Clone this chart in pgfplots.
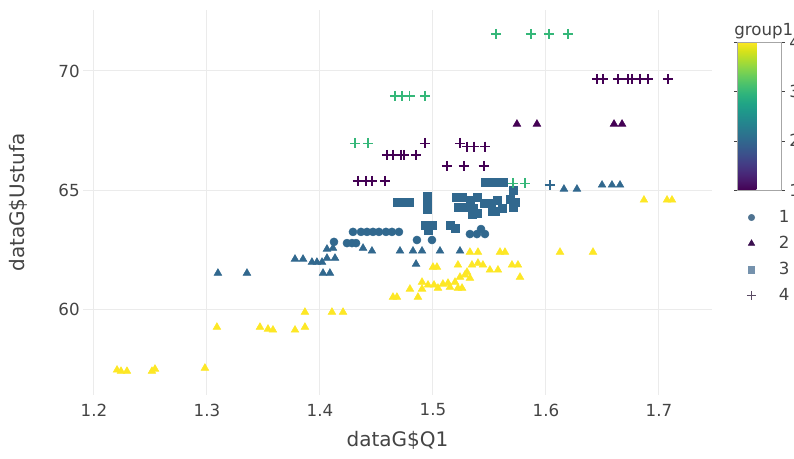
\documentclass[border=0pt]{standalone}
\usepackage{pgfplots}
\pgfplotsset{compat=1.18}
\usepackage{fontspec}
\setmainfont{DejaVu Sans}
\definecolor{vA}{HTML}{440154}
\definecolor{vB}{HTML}{31688E}
\definecolor{vC}{HTML}{35B779}
\definecolor{vD}{HTML}{FDE725}
\definecolor{txt}{HTML}{444444}
\definecolor{grd}{HTML}{EBEBEB}
\definecolor{lgA}{HTML}{4F7391}
\definecolor{lgB}{HTML}{3B1050}
\definecolor{lgC}{HTML}{7592AD}
\definecolor{lgD}{HTML}{5A4A63}
\begin{document}
\begin{tikzpicture}
\path[use as bounding box] (0,0) rectangle (595.5pt,343.5pt);
\begin{axis}[
  at={(62.25pt,47.25pt)}, anchor=south west,
  scale only axis, width=471.75pt, height=288.75pt,
  xmin=1.1903, xmax=1.7469, ymin=56.39, ymax=72.56,
  xtick={1.2,1.3,1.4,1.5,1.6,1.7},
  xticklabels={1.2,1.3,1.4,1.5,1.6,1.7},
  ytick={60,65,70}, yticklabels={60,65,70},
  grid=major, major grid style={draw=grd, line width=0.75pt},
  axis line style={draw=none}, tick style={draw=none},
  ticklabel style={font=\fontsize{12.5}{14}\selectfont, text=txt},
  xticklabel style={anchor=center, yshift=-11.25pt},
  yticklabel style={anchor=east, xshift=1pt},
  xlabel={dataG\$Q1}, ylabel={dataG\$Ustufa},
  label style={font=\fontsize{15}{17}\selectfont, text=txt},
  xlabel style={at={(axis description cs:0.5,0)}, anchor=center, yshift=-33.75pt},
  ylabel style={at={(axis description cs:0,0.5)}, anchor=center, rotate=0, yshift=48.75pt},
  colorbar, colormap/viridis, point meta min=1, point meta max=4,
  colorbar style={
    at={(parent axis.north east)}, anchor=north west,
    xshift=10.5pt, yshift=-24pt,
    scale only axis, width=33pt, height=111pt,
    ytick={1,2,3,4}, yticklabels={1,2,3,4},
    yticklabel style={font=\fontsize{12.5}{14}\selectfont, text=txt},
    axis line style={draw=black!35, line width=0.4pt},
    tick align=outside, major tick length=2.5pt, ytick style={draw=txt},
    title={group1},
    title style={at={(0,1)}, anchor=south west, inner sep=0pt, xshift=-2.5pt, yshift=-4pt,
      font=\fontsize{12.5}{14}\selectfont, text=txt},
  },
  legend style={at={(axis description cs:1.055,0.487)}, anchor=north west,
    draw=none, fill=none, font=\fontsize{12.5}{14}\selectfont, text=txt,
    row sep=4.8pt, column sep=15pt, inner sep=0pt},
  legend cell align=left,
]
% group 4 (yellow) triangles
\addplot[forget plot, only marks, mark=triangle*, mark size=3.3pt, mark options={draw=vD, fill=vD}] coordinates {
(1.2204,57.44)(1.2239,57.39)(1.2292,57.39)(1.2513,57.39)(1.2540,57.48)(1.2982,57.52)
(1.3088,59.24)(1.3469,59.24)(1.3540,59.16)(1.3584,59.12)(1.3779,59.12)(1.3867,59.24)
(1.3867,59.87)(1.4106,59.87)(1.4204,59.87)
(1.4646,60.50)(1.4681,60.50)(1.4796,60.84)(1.4867,60.50)(1.4903,61.13)(1.4903,60.84)
(1.5000,61.76)(1.5035,61.76)(1.5009,61.01)(1.5088,61.05)(1.5133,61.09)(1.5195,61.13)
(1.5239,61.34)(1.5221,60.88)(1.5257,60.88)(1.4956,61.01)(1.5044,60.88)(1.5150,60.92)
(1.5301,61.55)(1.5327,61.30)(1.5345,61.85)(1.5398,61.93)(1.5442,61.85)(1.5504,61.64)
(1.5575,61.64)(1.5699,61.85)(1.5752,61.85)(1.5770,61.34)(1.5221,61.85)(1.5283,61.43)
(1.5327,62.39)(1.5398,62.39)(1.5593,62.39)(1.5637,62.39)(1.6124,62.39)(1.6416,62.39)
(1.6867,64.58)(1.7071,64.58)(1.7115,64.58)
};
% group 2 (blue) triangles
\addplot[forget plot, only marks, mark=triangle*, mark size=3.3pt, mark options={draw=vB, fill=vB}] coordinates {
(1.6159,65.04)(1.6274,65.04)(1.6496,65.21)(1.6584,65.21)(1.6655,65.21)
(1.3097,61.51)(1.3354,61.51)(1.3779,62.10)(1.3850,62.10)
(1.3929,61.97)(1.3973,61.97)(1.4018,61.97)(1.4062,62.14)(1.4133,62.14)
(1.4062,62.52)(1.4115,62.56)(1.4027,61.51)(1.4088,61.51)
(1.4381,62.56)(1.4460,62.44)(1.4708,62.44)(1.4823,62.44)(1.4903,62.44)
(1.5062,62.44)(1.5239,62.44)(1.4850,61.89)
};
% group 2 (blue) circles
\addplot[forget plot, only marks, mark=*, mark size=3pt, mark options={draw=vB, fill=vB}] coordinates {
(1.4292,63.24)(1.4363,63.24)(1.4416,63.24)(1.4469,63.24)(1.4522,63.24)(1.4584,63.24)(1.4637,63.24)(1.4699,63.24)
(1.4124,62.82)(1.4239,62.77)(1.4283,62.77)(1.4319,62.77)
(1.4858,62.90)(1.4991,62.90)
(1.5327,63.15)(1.5389,63.15)(1.5425,63.36)(1.5460,63.15)
};
% group 2 (blue) squares
\addplot[forget plot, only marks, mark=square*, mark size=3pt, mark options={draw=vB, fill=vB}] coordinates {
(1.5460,65.34)(1.5513,65.34)(1.5566,65.34)(1.5619,65.34)(1.5708,65.00)
(1.4681,64.50)(1.4735,64.50)(1.4788,64.50)
(1.4947,64.75)(1.4947,64.45)(1.4947,64.20)
(1.5204,64.71)(1.5257,64.71)(1.5221,64.29)(1.5274,64.29)
(1.5327,64.58)(1.5389,64.71)(1.5354,64.24)(1.5345,63.99)(1.5389,64.03)
(1.5451,64.45)(1.5513,64.45)(1.5566,64.58)(1.5522,64.12)(1.5549,64.12)(1.5611,64.24)
(1.5681,64.62)(1.5708,64.29)(1.5726,64.50)
(1.4929,63.53)(1.4991,63.53)(1.4956,63.32)(1.5150,63.53)(1.5195,63.40)
};
% group 2 (blue) cross
\addplot[forget plot, only marks, mark=+, mark size=3.9pt, mark options={draw=vB, line width=0.85pt}] coordinates {
(1.6035,65.21)
};
% group 1 (purple) triangles
\addplot[forget plot, only marks, mark=triangle*, mark size=3.3pt, mark options={draw=vA, fill=vA}] coordinates {
(1.5743,67.77)(1.5920,67.77)(1.6602,67.77)(1.6673,67.77)
};
% group 1 (purple) crosses
\addplot[forget plot, only marks, mark=+, mark size=3.9pt, mark options={draw=vA, line width=0.85pt}] coordinates {
(1.6451,69.66)(1.6504,69.66)(1.6637,69.66)(1.6726,69.66)(1.6761,69.66)(1.6832,69.66)(1.6903,69.66)(1.7080,69.66)
(1.4929,66.97)(1.5239,66.97)(1.5301,66.81)(1.5363,66.81)(1.5460,66.81)
(1.4593,66.47)(1.4646,66.47)(1.4717,66.47)(1.4743,66.47)(1.4850,66.47)
(1.5124,66.01)(1.5274,66.01)(1.5451,66.01)
(1.4336,65.38)(1.4407,65.38)(1.4460,65.38)(1.4575,65.38)
};
% group 3 (green) crosses
\addplot[forget plot, only marks, mark=+, mark size=3.9pt, mark options={draw=vC, line width=0.85pt}] coordinates {
(1.5558,71.55)(1.5867,71.55)(1.6027,71.55)(1.6195,71.55)
(1.4664,68.95)(1.4726,68.95)(1.4796,68.95)(1.4929,68.95)
(1.4310,66.97)(1.4425,66.97)
(1.5708,65.29)(1.5814,65.29)
};
\addlegendimage{only marks, mark=*, mark size=2.4pt, mark options={draw=lgA, fill=lgA}}
\addlegendentry{1}
\addlegendimage{only marks, mark=triangle*, mark size=2.8pt, mark options={draw=lgB, fill=lgB}}
\addlegendentry{2}
\addlegendimage{only marks, mark=square*, mark size=2.4pt, mark options={draw=lgC, fill=lgC}}
\addlegendentry{3}
\addlegendimage{only marks, mark=+, mark size=3.5pt, mark options={draw=lgD, line width=0.8pt}}
\addlegendentry{4}
\end{axis}
\end{tikzpicture}
\end{document}
